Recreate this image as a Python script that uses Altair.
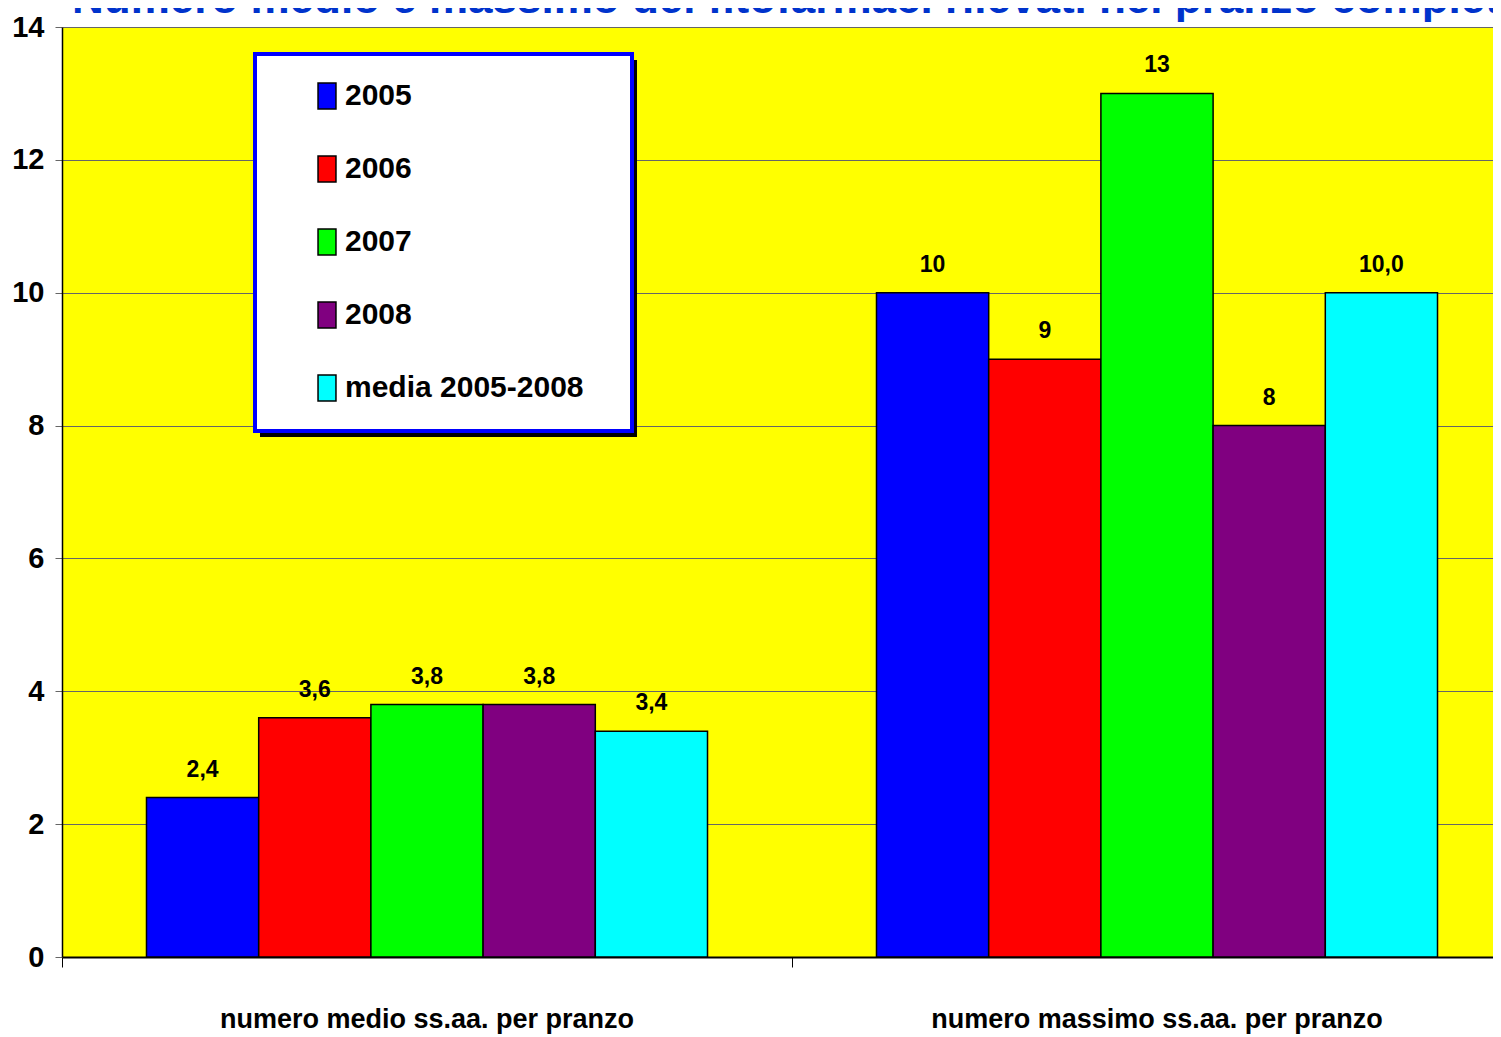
import altair as alt
import pandas as pd

TITLE = "Numero medio e massimo dei fitofarmaci rilevati nel pranzo completo"
groups = ["numero medio ss.aa. per pranzo", "numero massimo ss.aa. per pranzo"]
series = ["2005", "2006", "2007", "2008", "media 2005-2008"]
medio = [2.4, 3.6, 3.8, 3.8, 3.4]
massimo = [10, 9, 13, 8, 10.0]
medio_labels = ["2,4", "3,6", "3,8", "3,8", "3,4"]
massimo_labels = ["10", "9", "13", "8", "10,0"]
colors = ["#0000FF", "#FF0000", "#00FF00", "#800080", "#00FFFF"]
y_ticks = [0, 2, 4, 6, 8, 10, 12, 14]

rows = []
for g, vals, labs in [(groups[0], medio, medio_labels), (groups[1], massimo, massimo_labels)]:
    for s, v, l in zip(series, vals, labs):
        rows.append({"gruppo": g, "serie": s, "valore": v, "etichetta": l})
df = pd.DataFrame(rows)

FONT = "Liberation Sans, Arial, sans-serif"

x_enc = alt.X(
    "gruppo:N",
    sort=groups,
    scale=alt.Scale(range=[0, 1460], paddingInner=0, paddingOuter=0),
    axis=alt.Axis(
        title=None, bandPosition=0, labelAngle=0, labelAlign="center",
        labelBaseline="alphabetic", labelPadding=60, tickSize=10, tickColor="black", tickWidth=1,
        domainColor="black", domainWidth=2, labelFont=FONT, labelFontSize=27,
        labelFontWeight="bold", labelColor="black", labelLimit=1000, grid=False,
    ),
)
xoff_enc = alt.XOffset("serie:N", sort=series, scale=alt.Scale(paddingInner=0, paddingOuter=0.753))
y_enc = alt.Y(
    "valore:Q",
    scale=alt.Scale(domain=[0, 14], nice=False),
    axis=alt.Axis(
        title=None, values=y_ticks, grid=True, gridColor="#666666", gridWidth=1,
        tickColor="#666666", tickSize=7, labelPadding=11, labelFont=FONT, labelFontSize=29,
        labelFontWeight="bold", labelColor="black", domainColor="black", domainWidth=1.5,
        format="d",
    ),
)

base = alt.Chart(df)

bars = base.mark_bar(stroke="black", strokeWidth=1.5).encode(
    x=x_enc,
    xOffset=xoff_enc,
    y=y_enc,
    fill=alt.Fill(
        "serie:N",
        sort=series,
        scale=alt.Scale(domain=series, range=colors),
        legend=alt.Legend(
            orient="none", legendX=193, legendY=27, title=" ", titleOrient="right",
            titleFontSize=1, titlePadding=21,
            fillColor="white", strokeColor="#0000FF", padding=27,
            rowPadding=41, symbolType="M-0.69,-1H0.69V1H-0.69Z", symbolSize=676,
            symbolOffset=30, labelOffset=3, labelFont=FONT, labelFontSize=30,
            labelFontWeight="bold", labelColor="black", labelLimit=500,
            symbolStrokeColor="black", symbolStrokeWidth=1.5,
        ),
    ),
)

texts = base.mark_text(
    baseline="alphabetic", dy=-21, fontSize=23, fontWeight="bold", font=FONT, color="black"
).encode(
    x=x_enc,
    xOffset=xoff_enc,
    y=y_enc,
    text="etichetta:N",
)

shadow = alt.Chart(pd.DataFrame({"k": [0]})).mark_rect(color="black").encode(
    x=alt.value(198), x2=alt.value(575), y=alt.value(33), y2=alt.value(410)
)

title_txt = alt.Chart(pd.DataFrame({"t": [TITLE]})).mark_text(
    align="left", baseline="alphabetic", fontSize=44, fontWeight="bold",
    font=FONT, color="#0033CC",
).encode(x=alt.value(10), y=alt.value(-14), text="t:N")

chart = alt.layer(shadow, bars, texts, title_txt).properties(
    width=1431, height=930,
    autosize=alt.AutoSizeParams(type="none"),
    padding={"left": 54, "top": 19, "right": 0, "bottom": 80},
).configure_view(fill="#FFFF00", stroke="transparent").configure_legend(strokeWidth=4)

chart.save("out.html", embed_options={"renderer": "svg", "actions": False})
